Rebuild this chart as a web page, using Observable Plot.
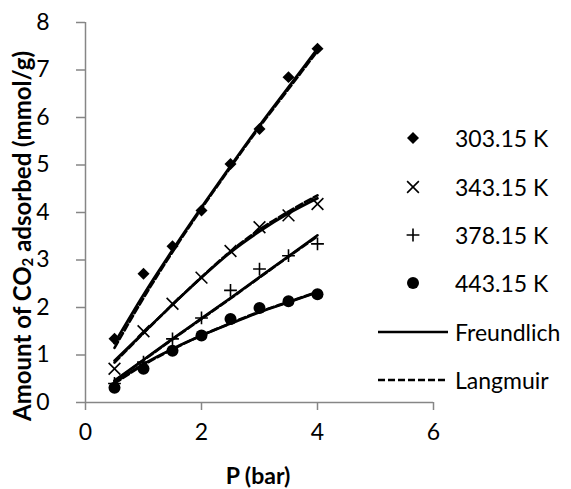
<!DOCTYPE html>
<html><head><meta charset="utf-8">
<script src="https://cdn.jsdelivr.net/npm/d3@7"></script>
<script src="https://cdn.jsdelivr.net/npm/@observablehq/plot@0.6"></script>
<style>
body{margin:0;background:#fff;}
#chart{width:571px;height:489px;}
</style>
</head><body><div id="chart"></div>
<script>
// ---- data ----
const pressure = [0.5, 1, 1.5, 2, 2.5, 3, 3.5, 4];
const temperatures = ["303.15 K", "343.15 K", "378.15 K", "443.15 K"];
const q303 = [1.34, 2.71, 3.29, 4.04, 5.02, 5.76, 6.85, 7.45];
const q343 = [0.71, 1.50, 2.08, 2.63, 3.19, 3.69, 3.94, 4.18];
const q378 = [0.40, 0.85, 1.34, 1.78, 2.36, 2.81, 3.09, 3.34];
const q443 = [0.31, 0.71, 1.09, 1.41, 1.76, 1.99, 2.13, 2.28];
// fitted model curves (read at the same pressures)
const freundlich303 = [1.25, 2.27, 3.21, 4.11, 4.98, 5.83, 6.64, 7.45];
const freundlich343 = [0.88, 1.47, 2.06, 2.63, 3.16, 3.60, 3.98, 4.30];
const freundlich378 = [0.46, 0.90, 1.34, 1.77, 2.20, 2.64, 3.08, 3.52];
const freundlich443 = [0.42, 0.81, 1.13, 1.41, 1.66, 1.90, 2.11, 2.32];
const langmuir303 = [1.15, 2.20, 3.17, 4.08, 4.95, 5.80, 6.60, 7.40];
const langmuir343 = [0.84, 1.46, 2.06, 2.64, 3.18, 3.64, 4.02, 4.36];
const langmuir378 = [0.45, 0.89, 1.33, 1.76, 2.19, 2.63, 3.07, 3.50];
const langmuir443 = [0.40, 0.79, 1.12, 1.41, 1.67, 1.91, 2.12, 2.33];
const xTicks = [0, 2, 4, 6];
const yTicks = [0, 1, 2, 3, 4, 5, 6, 7, 8];
const modelNames = ["Freundlich", "Langmuir"];

const measured = [q303, q343, q378, q443];
const freundlich = [freundlich303, freundlich343, freundlich378, freundlich443];
const langmuir = [langmuir303, langmuir343, langmuir378, langmuir443];
const rows = arr => pressure.map((p, j) => ({p, q: arr[j]}));

const FONT = "Lato, 'Open Sans', sans-serif";
const GRAY = "#868686";
const symbolStyles = [
  {symbol: "diamond2", r: 5.4, fill: "black", stroke: "none"},
  {symbol: "times", r: 5.4, fill: "none", stroke: "black", strokeWidth: 1.6},
  {symbol: "plus", r: 4.2, fill: "none", stroke: "black", strokeWidth: 1.6},
  {symbol: "circle", r: 6, fill: "black", stroke: "none"}
];

const marks = [
  Plot.ruleX([0], {stroke: GRAY, strokeWidth: 1.5}),
  Plot.ruleY([0], {stroke: GRAY, strokeWidth: 1.5}),
  Plot.axisX({ticks: xTicks, tickSize: 8, tickPadding: 13, stroke: GRAY, strokeWidth: 1.5, fill: "black", label: null, fontSize: 23, tickFormat: d => String(d)}),
  Plot.axisY({ticks: yTicks, tickSize: 9, tickPadding: 27, stroke: GRAY, strokeWidth: 1.5, fill: "black", label: null, fontSize: 23, tickFormat: d => String(d)})
];
measured.forEach((arr, i) => {
  marks.push(Plot.dot(rows(arr), {x: "p", y: "q", ...symbolStyles[i]}));
});
langmuir.forEach(arr => {
  marks.push(Plot.line(rows(arr), {x: "p", y: "q", stroke: "black", strokeWidth: 2.6, strokeDasharray: "7,3", curve: "monotone-x"}));
});
freundlich.forEach(arr => {
  marks.push(Plot.line(rows(arr), {x: "p", y: "q", stroke: "black", strokeWidth: 2.6, curve: "monotone-x"}));
});

const svg = Plot.plot({
  width: 571, height: 489,
  marginLeft: 85, marginRight: 138, marginTop: 22, marginBottom: 87,
  x: {domain: [0, 6]},
  y: {domain: [0, 8]},
  style: {fontFamily: FONT, fontSize: "23px", color: "black", background: "white"},
  marks
});

const s = d3.select(svg);
// y axis title with subscript
const yt = s.append("text")
  .attr("transform", "translate(21,236) rotate(-90)")
  .attr("text-anchor", "middle").attr("dominant-baseline", "central")
  .attr("font-weight", "bold").attr("font-size", 24).attr("font-family", FONT).attr("fill", "black");
yt.append("tspan").text("Amount of CO");
yt.append("tspan").attr("dy", 6).attr("font-size", 15).text("2");
yt.append("tspan").attr("dy", -6).text(" adsorbed (mmol/g)");
// x axis title
s.append("text").attr("x", 258).attr("y", 475)
  .attr("text-anchor", "middle").attr("dominant-baseline", "central")
  .attr("font-weight", "bold").attr("font-size", 23).attr("font-family", FONT).attr("fill", "black")
  .text("P (bar)");

// legend
const symMap = {diamond2: d3.symbolDiamond2, times: d3.symbolTimes, plus: d3.symbolPlus, circle: d3.symbolCircle};
const lg = s.append("g").attr("font-family", FONT).attr("font-size", 23).attr("fill", "black").attr("text-anchor", "start");
const rowY = [138, 187, 235, 283, 332, 380];
temperatures.forEach((t, i) => {
  const st = symbolStyles[i];
  lg.append("path")
    .attr("transform", `translate(413,${rowY[i]})`)
    .attr("d", d3.symbol(symMap[st.symbol], Math.PI * st.r * st.r)())
    .attr("fill", st.fill).attr("stroke", st.stroke).attr("stroke-width", st.strokeWidth || 0);
  lg.append("text").attr("x", 455).attr("y", rowY[i]).attr("dominant-baseline", "central").attr("text-anchor", "start").text(t);
});
modelNames.forEach((m, k) => {
  const y = rowY[4 + k];
  lg.append("line").attr("x1", 378).attr("x2", 448).attr("y1", y).attr("y2", y)
    .attr("stroke", "black").attr("stroke-width", 2.6)
    .attr("stroke-dasharray", k === 1 ? "7,3" : null);
  lg.append("text").attr("x", 455).attr("y", y).attr("dominant-baseline", "central").attr("text-anchor", "start").text(m);
});

document.getElementById("chart").appendChild(svg);
</script>
</body></html>
